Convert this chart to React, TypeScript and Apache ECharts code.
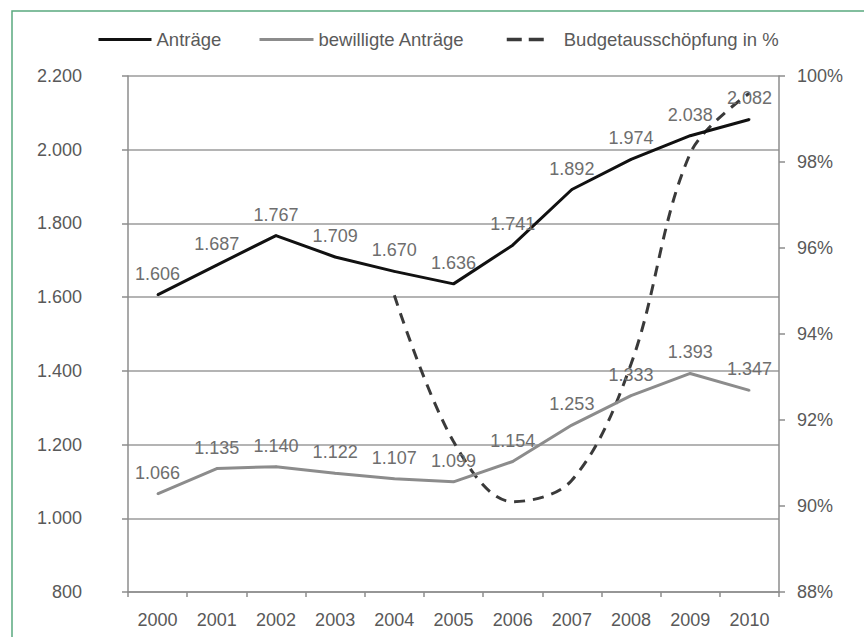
import React, { useEffect, useRef } from "react";
import * as echarts from "echarts";

const years = ["2000", "2001", "2002", "2003", "2004", "2005", "2006", "2007", "2008", "2009", "2010"];
const antraege = [1606, 1687, 1767, 1709, 1670, 1636, 1741, 1892, 1974, 2038, 2082];
const bewilligt = [1066, 1135, 1140, 1122, 1107, 1099, 1154, 1253, 1333, 1393, 1347];
const budget = [null, null, null, null, 94.9, 91.5, 90.1, 90.6, 93.3, 98.2, 99.6];

const seriesNames = ["Anträge", "bewilligte Anträge", "Budgetausschöpfung in %"];

const FONT = "'Liberation Sans', Arial, sans-serif";
const fmtDe = (v: number) => String(v).replace(/\B(?=(\d{3})+(?!\d))/g, ".");

export default function App() {
  const ref = useRef<HTMLDivElement>(null);
  useEffect(() => {
    if (!ref.current) return;
    const chart = echarts.init(ref.current, undefined, { renderer: "svg" });
    const labelStyle = {
      show: true,
      position: "top" as const,
      distance: 11,
      color: "#6e6e6e",
      fontSize: 18,
      fontFamily: FONT,
      formatter: (p: any) => fmtDe(p.value),
    };
    const legendText = { color: "#5a5a5a", fontSize: 18.5, fontFamily: FONT };
    const legendBase = {
      top: 30,
      padding: 0,
      itemHeight: 20,
      itemStyle: { opacity: 0 },
      textStyle: legendText,
    };
    chart.setOption({
      animation: false,
      backgroundColor: "#ffffff",
      textStyle: { fontFamily: FONT },
      graphic: [
        {
          type: "rect",
          shape: { x: 12, y: 11, width: 900, height: 700 },
          style: { fill: "none", stroke: "#5aa97f", lineWidth: 1.5 },
          silent: true,
        },
      ],
      legend: [
        {
          ...legendBase,
          data: [seriesNames[0]],
          left: 97,
          itemWidth: 53,
          lineStyle: { width: 3 },
        },
        {
          ...legendBase,
          data: [seriesNames[1]],
          left: 258,
          itemWidth: 54,
          lineStyle: { width: 3 },
        },
        {
          ...legendBase,
          data: [seriesNames[2]],
          left: 505,
          itemWidth: 38,
          lineStyle: { width: 3.5, type: [15, 7] },
          textStyle: { ...legendText, padding: [0, 0, 0, 14] },
        },
      ],
      grid: { left: 128, right: 85, top: 76, bottom: 45 },
      xAxis: {
        type: "category",
        data: years,
        boundaryGap: true,
        axisLine: { show: true, lineStyle: { color: "#8c8c8c", width: 1.5 } },
        axisTick: { show: true, length: 5, lineStyle: { color: "#8c8c8c", width: 1.5 } },
        axisLabel: { color: "#595959", fontSize: 18, fontFamily: FONT, margin: 19 },
      },
      yAxis: [
        {
          type: "value",
          min: 800,
          max: 2200,
          interval: 200,
          position: "left",
          axisLine: { show: true, lineStyle: { color: "#8c8c8c", width: 1.5 } },
          axisTick: { show: true, length: 6, lineStyle: { color: "#8c8c8c", width: 1.5 } },
          axisLabel: {
            color: "#595959",
            fontSize: 18,
            fontFamily: FONT,
            margin: 46,
            formatter: (v: number) => fmtDe(v),
          },
          splitLine: { show: true, lineStyle: { color: "#b4b4b4", width: 1.8 } },
        },
        {
          type: "value",
          min: 88,
          max: 100,
          interval: 2,
          position: "right",
          axisLine: { show: true, lineStyle: { color: "#8c8c8c", width: 1.5 } },
          axisTick: { show: true, length: 6, lineStyle: { color: "#8c8c8c", width: 1.5 } },
          axisLabel: {
            color: "#595959",
            fontSize: 18,
            fontFamily: FONT,
            margin: 18,
            formatter: "{value}%",
          },
          splitLine: { show: false },
        },
      ],
      series: [
        {
          name: seriesNames[2],
          type: "line",
          yAxisIndex: 1,
          data: budget,
          smooth: 0.35,
          connectNulls: false,
          symbol: "none",
          lineStyle: { color: "#3a3a3a", width: 3, type: [11, 8] },
          itemStyle: { color: "#3a3a3a" },
          z: 3,
        },
        {
          name: seriesNames[0],
          type: "line",
          data: antraege,
          symbol: "circle",
          symbolSize: 2,
          lineStyle: { color: "#111111", width: 3 },
          itemStyle: { color: "#111111" },
          label: labelStyle,
          z: 4,
        },
        {
          name: seriesNames[1],
          type: "line",
          data: bewilligt,
          symbol: "circle",
          symbolSize: 2,
          lineStyle: { color: "#8c8c8c", width: 3 },
          itemStyle: { color: "#8c8c8c" },
          label: labelStyle,
          z: 4,
        },
      ],
    });
    return () => chart.dispose();
  }, []);
  return (
    <div
      ref={ref}
      style={{ position: "fixed", left: 0, top: 0, width: 864, height: 637, background: "#fff" }}
    />
  );
}
